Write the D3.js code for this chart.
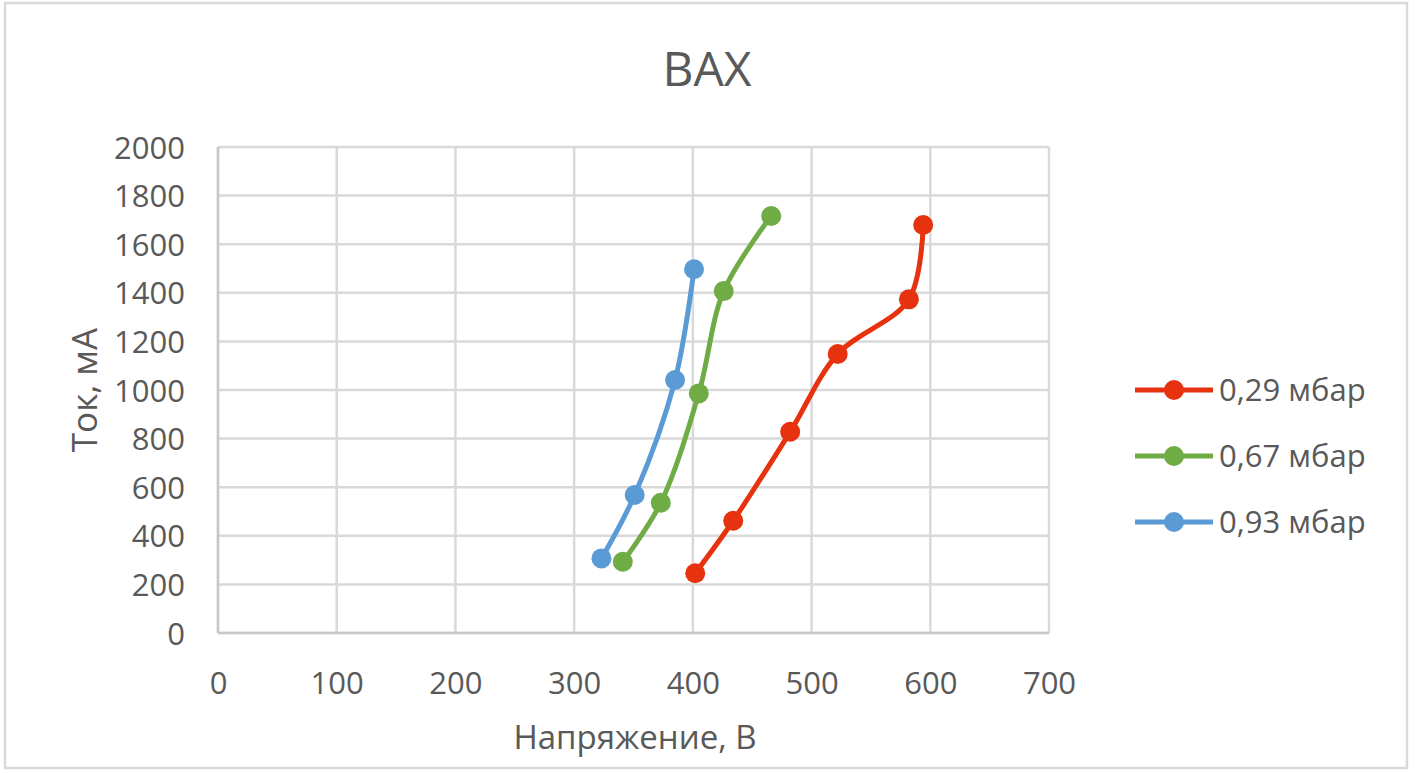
<!DOCTYPE html>
<html><head><meta charset="utf-8">
<script src="https://cdn.jsdelivr.net/npm/d3@7"></script>
<style>body{margin:0;background:#fff;} svg{display:block;}</style>
</head><body>
<svg id="c" width="1415" height="773"></svg>
<script>
const title = "ВАХ";
const xLabel = "Напряжение, В";
const yLabel = "Ток, мА";
const seriesNames = ["0,29 мбар", "0,67 мбар", "0,93 мбар"];
const seriesColors = ["#E6320E", "#6FAC46", "#5B9BD5"];
const volt029 = [402, 434, 482, 522, 582, 594];
const curr029 = [246, 462, 828, 1148, 1373, 1679];
const volt067 = [341, 373, 405, 426, 466];
const curr067 = [293, 536, 986, 1407, 1716];
const volt093 = [323, 351, 385, 401];
const curr093 = [307, 568, 1041, 1497];
const xTicks = [0, 100, 200, 300, 400, 500, 600, 700];
const yTicks = [0, 200, 400, 600, 800, 1000, 1200, 1400, 1600, 1800, 2000];

const series = [
  {name: seriesNames[0], color: seriesColors[0], x: volt029, y: curr029},
  {name: seriesNames[1], color: seriesColors[1], x: volt067, y: curr067},
  {name: seriesNames[2], color: seriesColors[2], x: volt093, y: curr093}
];

const svg = d3.select("#c");
const font = "'Open Sans', 'Noto Sans', sans-serif";
const txt = "#595959";

svg.append("rect").attr("x", 5).attr("y", 3).attr("width", 1402).attr("height", 765)
  .attr("fill", "#fff").attr("stroke", "#D9D9D9").attr("stroke-width", 2.5);

const L = 218, R = 1049, T = 147, B = 633;
const x = d3.scaleLinear().domain([0, 700]).range([L, R]);
const y = d3.scaleLinear().domain([0, 2000]).range([B, T]);

const grid = svg.append("g");
grid.selectAll("line.v").data(xTicks).join("line")
  .attr("x1", d => x(d)).attr("x2", d => x(d)).attr("y1", T).attr("y2", B)
  .attr("stroke", "#D9D9D9").attr("stroke-width", 2.5);
grid.selectAll("line.h").data(yTicks).join("line")
  .attr("y1", d => y(d)).attr("y2", d => y(d)).attr("x1", L).attr("x2", R)
  .attr("stroke", "#D9D9D9").attr("stroke-width", 2.5);
svg.append("line").attr("x1", L).attr("x2", L).attr("y1", T).attr("y2", B).attr("stroke", "#C8C8C8").attr("stroke-width", 2.5);
svg.append("line").attr("x1", L).attr("x2", R).attr("y1", B).attr("y2", B).attr("stroke", "#C8C8C8").attr("stroke-width", 2.5);

const xAxis = svg.append("g").attr("transform", `translate(0,${B})`)
  .call(d3.axisBottom(x).tickValues(xTicks).tickSize(0).tickPadding(61).tickFormat(d3.format("d")));
const yAxis = svg.append("g").attr("transform", `translate(${L},0)`)
  .call(d3.axisLeft(y).tickValues(yTicks).tickSize(0).tickPadding(33).tickFormat(d3.format("d")));
[xAxis, yAxis].forEach(a => {
  a.select(".domain").remove();
  a.selectAll("text").attr("font-family", font).attr("font-size", 31).attr("fill", txt);
});
xAxis.selectAll("text").attr("dy", "0");
yAxis.selectAll("text").attr("dy", "0.36em");

svg.append("text").attr("x", 707).attr("y", 86).attr("text-anchor", "middle")
  .attr("font-family", font).attr("font-size", 48).attr("fill", txt).text(title);
svg.append("text").attr("x", 635).attr("y", 749).attr("text-anchor", "middle")
  .attr("font-family", font).attr("font-size", 33).attr("fill", txt).text(xLabel);
svg.append("text").attr("transform", "translate(97,390) rotate(-90)").attr("text-anchor", "middle")
  .attr("font-family", font).attr("font-size", 35).attr("fill", txt).text(yLabel);

const line = d3.line().x(d => x(d[0])).y(d => y(d[1])).curve(d3.curveCatmullRom.alpha(0.5));
series.forEach(s => {
  const pts = s.x.map((v, i) => [v, s.y[i]]);
  svg.append("path").datum(pts).attr("d", line).attr("fill", "none")
    .attr("stroke", s.color).attr("stroke-width", 5).attr("stroke-linecap", "round");
  svg.append("g").selectAll("circle").data(pts).join("circle")
    .attr("cx", d => x(d[0])).attr("cy", d => y(d[1])).attr("r", 10).attr("fill", s.color);
});

const lg = svg.append("g");
series.forEach((s, i) => {
  const cy = 390 + i * 66;
  lg.append("line").attr("x1", 1135).attr("x2", 1213).attr("y1", cy).attr("y2", cy)
    .attr("stroke", s.color).attr("stroke-width", 5);
  lg.append("circle").attr("cx", 1174).attr("cy", cy).attr("r", 10).attr("fill", s.color);
  lg.append("text").attr("x", 1219).attr("y", cy).attr("dy", "0.36em")
    .attr("font-family", font).attr("font-size", 31).attr("fill", txt).text(s.name);
});
</script>
</body></html>
